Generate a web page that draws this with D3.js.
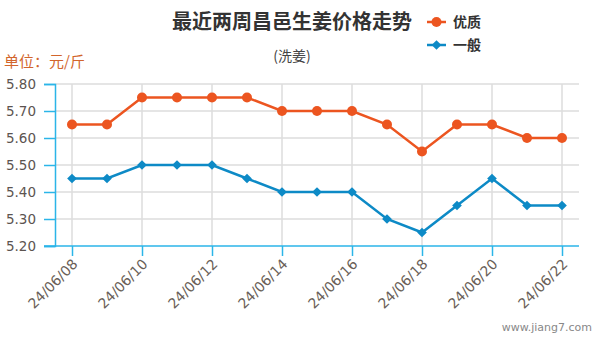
<!DOCTYPE html>
<html><head><meta charset="utf-8">
<script src="https://cdn.jsdelivr.net/npm/d3@7"></script>
<style>body{margin:0;background:#fff}svg{display:block}</style>
</head><body>
<svg id="c" width="601" height="340"></svg>
<script>
const dates = ["24/06/08","24/06/09","24/06/10","24/06/11","24/06/12","24/06/13","24/06/14","24/06/15","24/06/16","24/06/17","24/06/18","24/06/19","24/06/20","24/06/21","24/06/22"];
const premium = [5.65,5.65,5.75,5.75,5.75,5.75,5.70,5.70,5.70,5.65,5.55,5.65,5.65,5.60,5.60];
const normal = [5.45,5.45,5.50,5.50,5.50,5.45,5.40,5.40,5.40,5.30,5.25,5.35,5.45,5.35,5.35];
const yTicks = [5.20,5.30,5.40,5.50,5.60,5.70,5.80];
const seriesNames = ["优质","一般"];
const colors = ["#ec5520","#0d8ac6"];

const svg = d3.select("#c");
const L=55, R=579, T=84, B=246;
const x = d3.scalePoint().domain(dates).range([72,562]);
const y = d3.scaleLinear().domain([5.2,5.8]).range([B,T]);
const labeled = dates.filter((d,i)=>i%2===0);
const font = "'DejaVu Sans', sans-serif";
const cjk = "'Noto Sans CJK SC', sans-serif";

// grid
svg.append("g").selectAll("line").data(yTicks.slice(1)).join("line")
  .attr("x1",L).attr("x2",R).attr("y1",d=>y(d)).attr("y2",d=>y(d))
  .attr("stroke","#dcdcdc").attr("stroke-width",1.5);
svg.append("g").selectAll("line").data(labeled).join("line")
  .attr("x1",d=>x(d)).attr("x2",d=>x(d)).attr("y1",T).attr("y2",B)
  .attr("stroke","#dcdcdc").attr("stroke-width",1.5);

// y axis
const ya = svg.append("g").attr("transform",`translate(${L},0)`)
  .call(d3.axisLeft(y).tickValues(yTicks).tickFormat(d3.format(".2f")).tickSize(11).tickPadding(8));
ya.select(".domain").attr("stroke","#2bb5e8").attr("stroke-width",1.5);
ya.selectAll(".tick line").attr("stroke","#2bb5e8").attr("stroke-width",1.5);
ya.selectAll("text").attr("font-family",font).attr("font-size",13.5).attr("fill","#5c5450");

// x axis
const xa = svg.append("g").attr("transform",`translate(0,${B})`)
  .call(d3.axisBottom(x).tickValues(labeled).tickSize(10).tickSizeOuter(0));
xa.select(".domain").attr("d",`M${L-11},0H${R}`).attr("stroke","#2bb5e8").attr("stroke-width",1.5);
xa.selectAll(".tick line").attr("stroke","#2bb5e8").attr("stroke-width",1.5);
xa.selectAll("text").attr("font-family",font).attr("font-size",14).attr("fill","#6a5f58")
  .attr("text-anchor","end").attr("dy",0).attr("y",0)
  .attr("transform","translate(6,19) rotate(-45)");

// lines
const line = d3.line().x((d,i)=>x(dates[i])).y(d=>y(d));
[premium,normal].forEach((s,k)=>{
  svg.append("path").attr("d",line(s)).attr("fill","none")
    .attr("stroke",colors[k]).attr("stroke-width",2.5);
});
svg.append("g").selectAll("circle").data(premium).join("circle")
  .attr("cx",(d,i)=>x(dates[i])).attr("cy",d=>y(d)).attr("r",5).attr("fill",colors[0]);
const diamond = d3.symbol().type(d3.symbolDiamond2).size(60);
svg.append("g").selectAll("path").data(normal).join("path")
  .attr("d",diamond).attr("transform",(d,i)=>`translate(${x(dates[i])},${y(d)})`).attr("fill",colors[1]);

// title
svg.append("text").attr("x",292).attr("y",29).attr("text-anchor","middle")
  .attr("font-family",cjk).attr("font-weight","bold").attr("font-size",20).attr("fill","#333")
  .text("最近两周昌邑生姜价格走势");
svg.append("text").attr("x",292).attr("y",61).attr("text-anchor","middle")
  .attr("font-family",cjk).attr("font-size",14).attr("fill","#444").text("(洗姜)");
svg.append("text").attr("x",4).attr("y",67)
  .attr("font-family",cjk).attr("font-size",15).attr("fill","#d2652c").text("单位：元/斤");

// legend
seriesNames.forEach((n,k)=>{
  const yy = 22 + k*23;
  svg.append("line").attr("x1",427).attr("x2",446).attr("y1",yy).attr("y2",yy)
    .attr("stroke",colors[k]).attr("stroke-width",2.5);
  if(k===0) svg.append("circle").attr("cx",436.5).attr("cy",yy).attr("r",5).attr("fill",colors[k]);
  else svg.append("path").attr("d",diamond).attr("transform",`translate(436.5,${yy})`).attr("fill",colors[k]);
  svg.append("text").attr("x",453).attr("y",yy+5).attr("font-family",cjk).attr("font-weight","bold")
    .attr("font-size",14).attr("fill","#333").text(n);
});

// watermark
svg.append("text").attr("x",592).attr("y",331).attr("text-anchor","end")
  .attr("font-family",font).attr("font-size",11).attr("fill","#888").text("www.jiang7.com");
</script>
</body></html>
